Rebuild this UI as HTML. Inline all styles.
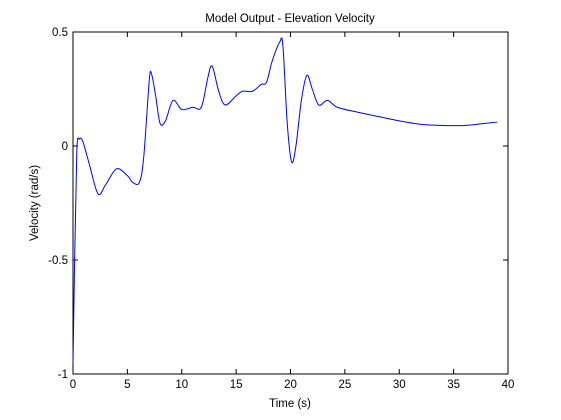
<!DOCTYPE html>
<html><head><meta charset="utf-8"><style>
html,body{margin:0;padding:0;background:#fff;}
svg{display:block;font-family:"Liberation Sans",Arial,sans-serif;}
</style></head><body>
<svg id="chart" width="561" height="420">
<rect x="0" y="0" width="561" height="420" fill="#fff"/>
<rect x="73" y="32" width="435" height="342" fill="#fff" stroke="#000" stroke-width="1"/>
<text x="290" y="22" font-size="11.5" text-anchor="middle">Model Output - Elevation Velocity</text>
<text x="290" y="407" font-size="11.5" text-anchor="middle">Time (s)</text>
<text x="38" y="203" font-size="11.5" text-anchor="middle" transform="rotate(-90 38 203)">Velocity (rad/s)</text>
<g id="axes"></g>
<path id="series" fill="none" stroke="#0000ff" stroke-width="1"/>
</svg>
<script>
const xTicks=[0,5,10,15,20,25,30,35,40];
const yTicks=[-1,-0.5,0,0.5];
const yTickLabels=["-1","-0.5","0","0.5"];
const times=[0,0.15,0.35,0.6,0.9,1.5,2.3,3,4,5,5.5,6.1,6.5,7,7.2,7.6,8,8.5,9.2,10,11,11.8,12.4,12.8,13.4,14,15,15.6,16.5,17.3,17.8,18.3,19,19.3,19.7,20.1,20.5,21,21.5,22,22.6,23.4,24.3,26,28,30,32,34,36,38,39];
const velocity=[-0.95,-0.5,-0.02,0.03,0.02,-0.08,-0.21,-0.17,-0.1,-0.13,-0.16,-0.16,-0.05,0.28,0.32,0.22,0.10,0.11,0.2,0.16,0.17,0.17,0.3,0.35,0.24,0.18,0.22,0.24,0.24,0.27,0.28,0.37,0.455,0.44,0.1,-0.07,0.0,0.2,0.31,0.25,0.18,0.2,0.17,0.15,0.13,0.11,0.095,0.09,0.09,0.1,0.105];
const L=73,R=508,T=32,B=374;
const xs=t=>L+(t-0)/(40-0)*(R-L);
const ys=v=>B-(v+1)/1.5*(B-T);
const ns="http://www.w3.org/2000/svg";
const g=document.getElementById('axes');
function mk(tag,attrs){const e=document.createElementNS(ns,tag);for(const k in attrs)e.setAttribute(k,attrs[k]);g.appendChild(e);return e;}
xTicks.forEach(t=>{
  const x=xs(t);
  const a=mk('line',{x1:x,x2:x,y1:B,y2:B-5,stroke:'#000'});
  
  
  const b=mk('line',{x1:x,x2:x,y1:T,y2:T+5,stroke:'#000'});
  
  
  const tx=mk('text',{x:x,y:B+14,'font-size':11.5,'text-anchor':'middle'});
  tx.textContent=String(t);
  
  
});
yTicks.forEach((v,i)=>{
  const y=ys(v);
  const a=mk('line',{x1:L,x2:L+5,y1:y,y2:y,stroke:'#000'});
  
  
  const b=mk('line',{x1:R,x2:R-5,y1:y,y2:y,stroke:'#000'});
  
  
  const tx=mk('text',{x:L-5,y:y+4,'font-size':11.5,'text-anchor':'end'});
  tx.textContent=yTickLabels[i];
  
  
});
const P=times.map((t,i)=>[xs(t),ys(velocity[i])]);
let d='M'+P[0][0]+','+P[0][1];
for(let i=0;i<P.length-1;i++){
  const p1=P[i],p2=P[i+1];
  if(i<2){d+=' L'+p2[0]+','+p2[1];continue;}
  const p0=P[i-1],p3=P[Math.min(P.length-1,i+2)];
  const c1=[p1[0]+(p2[0]-p0[0])/6,p1[1]+(p2[1]-p0[1])/6];
  const c2=[p2[0]-(p3[0]-p1[0])/6,p2[1]-(p3[1]-p1[1])/6];
  d+=' C'+c1[0]+','+c1[1]+' '+c2[0]+','+c2[1]+' '+p2[0]+','+p2[1];
}
document.getElementById('series').setAttribute('d',d);
</script>
</body></html>
